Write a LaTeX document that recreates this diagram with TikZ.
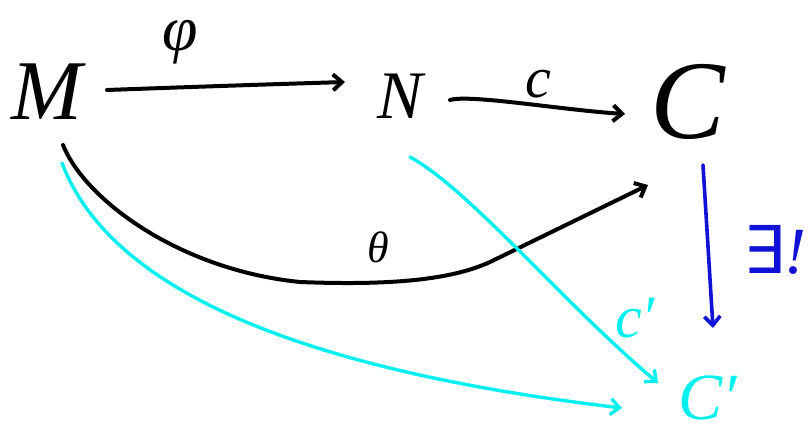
\documentclass[tikz,border=0pt]{standalone}
\usepackage{fontspec}
\setmainfont{Liberation Serif}
\newfontfamily\symfont{DejaVu Sans}
\usetikzlibrary{arrows.meta,calc}
\definecolor{inkblue}{RGB}{18,18,214}
\definecolor{inkcyan}{RGB}{0,240,240}
\newcommand\fsz[1]{\fontsize{#1}{#1}\selectfont}
\tikzset{
  letter/.style={inner sep=0pt, font=\itshape},
  pen/.style={line width=4pt, line cap=round, line join=round},
  cpen/.style={line width=3.4pt, line cap=round, line join=round, draw=inkcyan},
  bpen/.style={line width=3.6pt, line cap=round, line join=round, draw=inkblue},
  head/.style={-{Straight Barb[length=9pt,width=16pt]}},
}
\begin{document}
\begin{tikzpicture}[x=1pt,y=-1pt]
\useasboundingbox (0,0) rectangle (809,433);

% objects
\node[letter] (M)  at (47,92)   {\fsz{85}M};
\node[letter] (N)  at (400,96)  {\fsz{68}N};
\node[letter] (C)  at (688,102) {\fsz{112}C};
\node[letter, text=inkcyan] (Cp) at (708,398) {\fsz{66}C′};

% morphisms
\draw[pen,head] ($(M)+(60,-2)$) .. controls ($(M)+(170,-6)$) and ($(N)+(-120,-12)$) .. ($(N)+(-55,-14)$);
\draw[pen,head] ($(N)+(50,4)$) .. controls ($(N)+(70,-2)$) and ($(C)+(-126,8)$) .. ($(C)+(-63,12)$);
\draw[pen,head] ($(M)+(16,53)$) .. controls ($(M)+(38,108)$) and ($(M)+(133,178)$) .. ($(M)+(253,190)$)
   .. controls ($(M)+(353,194)$) and ($(M)+(408,186)$) .. ($(M)+(443,170)$) -- ($(C)+(-40,83)$);
\draw[bpen,head] ($(C)+(15,63)$) -- ($(Cp)+(5,-70)$);
\draw[cpen,head] ($(M)+(15,71)$) .. controls ($(M)+(63,198)$) and ($(M)+(253,278)$) .. ($(Cp)+(-86,10)$);
\draw[cpen,head] ($(N)+(10,61)$) .. controls ($(N)+(70,94)$) and ($(N)+(160,204)$) .. ($(Cp)+(-50,-15)$);

% labels
\node[letter] (phi) at (180,42)  {\fsz{64}φ};
\node[letter] (cl)  at (538,84)  {\fsz{58}c};
\node[letter] (th)  at (378,247) {\fsz{44}θ};
\node[letter, text=inkblue] (ex) at (775,250) {\fsz{66}{\symfont ∃}!};
\node[letter, text=inkcyan] (cpl) at (635,318) {\fsz{60}c′};
\end{tikzpicture}
\end{document}
